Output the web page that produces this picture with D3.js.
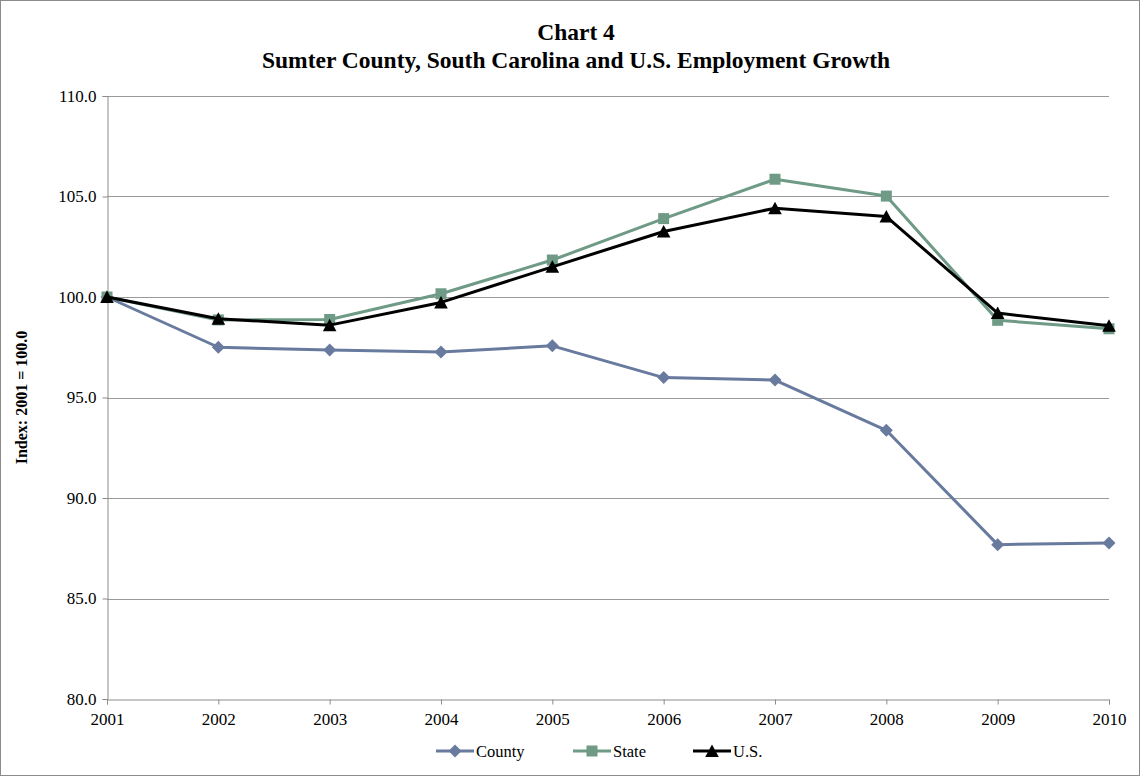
<!DOCTYPE html>
<html>
<head>
<meta charset="utf-8">
<script src="https://cdn.jsdelivr.net/npm/d3@7"></script>
<style>
  html, body { margin: 0; padding: 0; background: #fff; }
  svg { display: block; }
  svg text { font-family: "Liberation Serif", "Times New Roman", serif; fill: #000; }
</style>
</head>
<body>
<svg id="chart" width="1140" height="776"></svg>
<script>
// Employment index, 2001 = 100.0
const years = ["2001", "2002", "2003", "2004", "2005", "2006", "2007", "2008", "2009", "2010"];
const county = [100.0, 97.5, 97.36, 97.26, 97.57, 95.99, 95.87, 93.37, 87.68, 87.76];
const state  = [100.0, 98.86, 98.88, 100.16, 101.84, 103.9, 105.86, 105.02, 98.84, 98.42];
const us     = [100.0, 98.92, 98.6, 99.73, 101.5, 103.26, 104.42, 104.0, 99.2, 98.57];
const yTicks = [80, 85, 90, 95, 100, 105, 110];

// marker outlines, centred on the data point
const diamond  = "M0,-6.5L6.5,0L0,6.5L-6.5,0Z";
const square   = "M-5.5,-5.5H5.5V5.5H-5.5Z";
const triangle = "M0,-6.5L6.8,6L-6.8,6Z";

const series = [
  { name: "County", values: county, color: "#687a9e", marker: diamond },
  { name: "State",  values: state,  color: "#6e9a86", marker: square },
  { name: "U.S.",   values: us,     color: "#000000", marker: triangle }
];

const svg = d3.select("#chart");
const W = 1140, H = 776;
const m = { left: 107, right: 1109, top: 96, bottom: 699 };

// outer frame
svg.append("rect").attr("x", 0.5).attr("y", 0.5).attr("width", W - 1).attr("height", H - 1)
  .attr("fill", "#fff").attr("stroke", "#8c8c8c").attr("stroke-width", 1);

const x = d3.scalePoint().domain(years).range([m.left, m.right]);
const y = d3.scaleLinear().domain([80, 110]).range([m.bottom, m.top]);

// horizontal gridlines
svg.append("g").selectAll("line").data(yTicks.filter(t => t !== 80)).join("line")
  .attr("x1", m.left).attr("x2", m.right)
  .attr("y1", d => Math.round(y(d)) + 0.5).attr("y2", d => Math.round(y(d)) + 0.5)
  .attr("stroke", "#9a9a9a").attr("stroke-width", 1);

// y axis
const yAxis = d3.axisLeft(y).tickValues(yTicks).tickFormat(d3.format(".1f")).tickSize(5).tickPadding(6);
const gy = svg.append("g").attr("transform", `translate(${m.left + 0.5},0)`).call(yAxis)
  .attr("font-family", null).attr("font-size", null);
gy.select(".domain").attr("stroke", "#8c8c8c");
gy.selectAll(".tick line").attr("stroke", "#8c8c8c");
gy.selectAll(".tick text").attr("font-size", 17).attr("fill", "#000");

// x axis
const xAxis = d3.axisBottom(x).tickSize(5).tickPadding(8);
const gx = svg.append("g").attr("transform", `translate(0,${Math.round(y(80)) + 0.5})`).call(xAxis)
  .attr("font-family", null).attr("font-size", null);
gx.select(".domain").attr("stroke", "#8c8c8c");
gx.selectAll(".tick line").attr("stroke", "#8c8c8c");
gx.selectAll(".tick text").attr("font-size", 17).attr("fill", "#000");

// series lines and markers
const line = d3.line().x((d, i) => x(years[i])).y(d => y(d));
series.forEach(s => {
  const g = svg.append("g");
  g.append("path").datum(s.values).attr("d", line)
    .attr("fill", "none").attr("stroke", s.color).attr("stroke-width", 3)
    .attr("stroke-linejoin", "round");
  g.selectAll("path.pt").data(s.values).join("path").attr("class", "pt")
    .attr("transform", (d, i) => `translate(${x(years[i])},${y(d)})`)
    .attr("d", s.marker)
    .attr("fill", s.color);
});

// titles
svg.append("text").attr("x", 576).attr("y", 40).attr("text-anchor", "middle")
  .attr("font-size", 23.5).attr("font-weight", "bold").text("Chart 4");
svg.append("text").attr("x", 576).attr("y", 68).attr("text-anchor", "middle")
  .attr("font-size", 23.5).attr("font-weight", "bold")
  .text("Sumter County, South Carolina and U.S. Employment Growth");

// y axis title
svg.append("text").attr("transform", `translate(27,${(m.top + m.bottom) / 2}) rotate(-90)`)
  .attr("text-anchor", "middle").attr("font-size", 16).attr("font-weight", "bold")
  .text("Index: 2001 = 100.0");

// legend
const legendX = [436, 573, 693];
const lg = svg.append("g");
series.forEach((s, i) => {
  const lx = legendX[i], ly = 751;
  lg.append("line").attr("x1", lx).attr("x2", lx + 38).attr("y1", ly).attr("y2", ly)
    .attr("stroke", s.color).attr("stroke-width", 3);
  lg.append("path").attr("transform", `translate(${lx + 19},${ly})`)
    .attr("d", s.marker).attr("fill", s.color);
  lg.append("text").attr("x", lx + 40).attr("y", ly + 6).attr("font-size", 16.5).text(s.name);
});
</script>
</body>
</html>
